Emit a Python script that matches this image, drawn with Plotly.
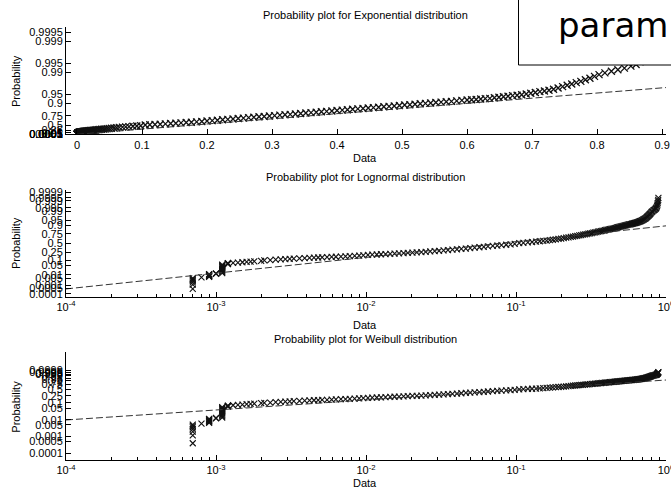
import math
from statistics import NormalDist
import plotly.graph_objects as go

W, H = 671, 493

# ---- sample: sorted data value and its plotting probability ----
data_x = [
    0.0007, 0.0007, 0.0007, 0.0007, 0.0007, 0.0007, 0.0007,
    0.0008,
    0.0009, 0.0009, 0.0009, 0.0009, 0.0009, 0.0009, 0.0009,
    0.0010, 0.0010,
    0.0011, 0.0011, 0.0011, 0.0011, 0.0011, 0.0011, 0.0011, 0.0011, 0.0011, 0.0011, 0.0011,
    0.0012, 0.0012, 0.0012, 0.0012,
    0.0013, 0.0014, 0.0015, 0.0016, 0.0017, 0.0018, 0.0020, 0.0021, 0.0023, 0.0025,
    0.0027, 0.0029, 0.0031, 0.0033, 0.0036, 0.0039, 0.0042, 0.0045, 0.0048, 0.0051,
    0.0055, 0.0059, 0.0063, 0.0068, 0.0073, 0.0078, 0.0084, 0.0090, 0.0096, 0.0103,
    0.0110, 0.0118, 0.0126, 0.0135, 0.0145, 0.0155, 0.0166, 0.0178, 0.0190, 0.0204,
    0.0218, 0.0234, 0.0250, 0.0268, 0.0287, 0.0307, 0.0329, 0.0352, 0.0377, 0.0404,
    0.0432, 0.0463, 0.0495, 0.0530, 0.0570, 0.0610, 0.0650, 0.0700, 0.0750, 0.0800,
    0.0860, 0.0920, 0.0980,
    0.105, 0.112, 0.120, 0.128, 0.136, 0.144, 0.152, 0.160, 0.168, 0.176, 0.184, 0.192, 0.200,
    0.208, 0.216, 0.224, 0.232, 0.240, 0.248, 0.256, 0.264, 0.272, 0.280, 0.288, 0.296,
    0.304, 0.312, 0.320, 0.328, 0.336, 0.344, 0.352, 0.360, 0.368, 0.376, 0.384, 0.392,
    0.400, 0.408, 0.416, 0.424, 0.432, 0.440, 0.448, 0.456, 0.464, 0.472, 0.480, 0.488,
    0.496, 0.504, 0.512, 0.520, 0.528, 0.536, 0.544, 0.552, 0.560, 0.568, 0.576, 0.584,
    0.592, 0.600,
    0.607, 0.614, 0.621, 0.628, 0.635, 0.642, 0.649, 0.656, 0.663, 0.670, 0.677, 0.684,
    0.691, 0.698, 0.705, 0.712, 0.719, 0.726, 0.733, 0.740, 0.747, 0.754, 0.761, 0.768,
    0.775, 0.782, 0.789, 0.796, 0.803, 0.812, 0.822, 0.832, 0.842, 0.852, 0.860, 0.866,
    0.872, 0.876, 0.880, 0.884, 0.887, 0.890,
]
data_p = [
    0.0004, 0.0012, 0.0020, 0.0028, 0.0036, 0.0044, 0.0052,
    0.0060,
    0.0068, 0.0076, 0.0084, 0.0092, 0.0100, 0.0108, 0.0116,
    0.0124, 0.0132,
    0.014, 0.017, 0.020, 0.024, 0.028, 0.032, 0.037, 0.042, 0.047, 0.052, 0.058,
    0.062, 0.065, 0.068, 0.071,
    0.074, 0.077, 0.080, 0.085, 0.088, 0.091, 0.097, 0.101, 0.106, 0.111,
    0.115, 0.119, 0.123, 0.127, 0.131, 0.135, 0.139, 0.142, 0.145, 0.148,
    0.151, 0.155, 0.158, 0.162, 0.166, 0.170, 0.175, 0.180, 0.185, 0.191,
    0.196, 0.201, 0.206, 0.210, 0.215, 0.220, 0.226, 0.231, 0.236, 0.242,
    0.248, 0.254, 0.261, 0.268, 0.276, 0.284, 0.293, 0.302, 0.312, 0.322,
    0.332, 0.343, 0.354, 0.366, 0.378, 0.390, 0.402, 0.414, 0.426, 0.437,
    0.449, 0.461, 0.472,
    0.497, 0.507, 0.518, 0.529, 0.540, 0.551, 0.562, 0.572, 0.583, 0.594, 0.605, 0.616, 0.627,
    0.640, 0.651, 0.662, 0.672, 0.682, 0.692, 0.701, 0.711, 0.719, 0.728, 0.736, 0.744,
    0.752, 0.760, 0.767, 0.774, 0.781, 0.788, 0.795, 0.801, 0.807, 0.813, 0.819, 0.824,
    0.830, 0.835, 0.840, 0.845, 0.850, 0.854, 0.859, 0.863, 0.867, 0.871, 0.875, 0.879,
    0.883, 0.887, 0.890, 0.893, 0.897, 0.900, 0.903, 0.906, 0.909, 0.912, 0.914, 0.917,
    0.920, 0.922,
    0.9235, 0.9257, 0.9279, 0.9301, 0.9314, 0.9341, 0.9367, 0.9392, 0.9416, 0.9439, 0.9455, 0.9477,
    0.9502, 0.9531, 0.9558, 0.9584, 0.9604, 0.9624, 0.9653, 0.9683, 0.9713, 0.9740, 0.9765, 0.9787,
    0.9806, 0.9828, 0.9847, 0.9867, 0.9883, 0.9897, 0.9909, 0.9919, 0.9928, 0.9938, 0.9945, 0.9955,
    0.9967, 0.9975, 0.9982, 0.9988, 0.9992, 0.9995,
]

prob_ticks = [0.0001, 0.0005, 0.001, 0.005, 0.01, 0.05, 0.1, 0.25, 0.5, 0.75,
              0.9, 0.95, 0.99, 0.995, 0.999, 0.9995, 0.9999]
prob_labels = ["0.0001", "0.0005", "0.001", "0.005", "0.01", "0.05", "0.1", "0.25", "0.5", "0.75",
               "0.9", "0.95", "0.99", "0.995", "0.999", "0.9995", "0.9999"]

log_tick_vals = [1e-4, 1e-3, 1e-2, 1e-1, 1.0]
log_tick_text = ["10<sup>-4</sup>", "10<sup>-3</sup>", "10<sup>-2</sup>", "10<sup>-1</sup>", "10<sup>0</sup>"]

titles = ["Probability plot for Exponential distribution",
          "Probability plot for Lognormal distribution",
          "Probability plot for Weibull distribution"]

# fitted reference-line parameters
exp_mu = 0.26
logn_mu, logn_sigma = -2.505, 2.0
wbl_scale, wbl_shape = 0.215, 0.60

# ---- probability-paper scale transforms ----
nd = NormalDist()
def t_exp(p):
    return -math.log(1.0 - p)
def t_norm(p):
    return nd.inv_cdf(p)
def t_wbl(p):
    return math.log(-math.log(1.0 - p))

FONT = "Liberation Sans, Arial, sans-serif"
BLACK = "#000000"
FS = 11

def py(px):
    return 1 - px / H

def px_x(px):
    return (px - 66) / 600.0

marker_lin = dict(symbol="x-thin", size=7, line=dict(width=1.3, color="#111111"), color="#111111")
marker_log = dict(symbol="x-thin", size=6, line=dict(width=1.1, color="#111111"), color="#111111")
dash = dict(color="#333333", width=1, dash="7px,3px")

fig = go.Figure()

# Exponential
fig.add_trace(go.Scatter(x=data_x, y=[t_exp(p) for p in data_p], mode="markers",
                         marker=marker_lin, xaxis="x", yaxis="y", showlegend=False))
ex = [0.0, 0.906]
fig.add_trace(go.Scatter(x=ex, y=[v / exp_mu for v in ex], mode="lines", line=dash,
                         xaxis="x", yaxis="y", showlegend=False))

# Lognormal
fig.add_trace(go.Scatter(x=data_x, y=[t_norm(p) for p in data_p], mode="markers",
                         marker=marker_log, xaxis="x2", yaxis="y2", showlegend=False))
lx = [1e-4, 1.0]
fig.add_trace(go.Scatter(x=lx, y=[(math.log(v) - logn_mu) / logn_sigma for v in lx], mode="lines",
                         line=dash, xaxis="x2", yaxis="y2", showlegend=False))

# Weibull
fig.add_trace(go.Scatter(x=data_x, y=[t_wbl(p) for p in data_p], mode="markers",
                         marker=marker_log, xaxis="x3", yaxis="y3", showlegend=False))
fig.add_trace(go.Scatter(x=lx, y=[wbl_shape * (math.log(v) - math.log(wbl_scale)) for v in lx],
                         mode="lines", line=dash, xaxis="x3", yaxis="y3", showlegend=False))

# invisible carriers so the minor-tick overlay axes get drawn
for xa, ya in [("x4", "y2"), ("x5", "y3")]:
    fig.add_trace(go.Scatter(x=[0.01], y=[0], mode="markers", marker=dict(opacity=0, size=1),
                             hoverinfo="skip", xaxis=xa, yaxis=ya, showlegend=False))

common_axis = dict(showgrid=False, zeroline=False, showline=True, linecolor=BLACK, linewidth=1,
                   ticks="inside", ticklen=5, tickcolor=BLACK, tickwidth=1,
                   tickfont=dict(family=FONT, size=FS, color=BLACK), automargin=False)

exp_vals = [(t_exp(p), l) for p, l in zip(prob_ticks, prob_labels) if t_exp(p) <= 8.02]
norm_vals = [(t_norm(p), l) for p, l in zip(prob_ticks, prob_labels)]
wbl_vals = [(t_wbl(p), l) for p, l in zip(prob_ticks, prob_labels)]

minor_vals = [m * 10.0 ** e for e in range(-4, 0) for m in range(2, 10)]
log_x = dict(common_axis, type="log", range=[-4, 0], tickmode="array",
             tickvals=log_tick_vals, ticktext=log_tick_text, ticklabeloverflow="allow")
# overlay axes carrying only the short minor ticks of the log scales
minor_x = dict(type="log", range=[-4, 0], tickmode="array", tickvals=minor_vals,
               ticktext=[""] * len(minor_vals), showticklabels=False,
               ticks="inside", ticklen=3, tickcolor=BLACK, tickwidth=1,
               showgrid=False, zeroline=False, showline=False, automargin=False, side="bottom")

fig.update_layout(
    width=W, height=H,
    margin=dict(l=66, r=5, t=0, b=0),
    paper_bgcolor="white", plot_bgcolor="white",
    font=dict(family=FONT, size=FS, color=BLACK),
    xaxis=dict(common_axis, domain=[0, 1], anchor="y", range=[-0.0169, 0.906],
               tick0=0, dtick=0.1, ticklabeloverflow="allow"),
    yaxis=dict(common_axis, domain=[py(134.3), py(26.7)], anchor="x", range=[0, 8.02],
               tickvals=[v for v, _ in exp_vals], ticktext=[l for _, l in exp_vals]),
    xaxis2=dict(log_x, domain=[0, 1], anchor="y2"),
    yaxis2=dict(common_axis, domain=[py(296.7), py(190)], anchor="x2", range=[-3.92, 3.87],
                tickvals=[v for v, _ in norm_vals], ticktext=[l for _, l in norm_vals]),
    xaxis3=dict(log_x, domain=[0, 1], anchor="y3"),
    yaxis3=dict(common_axis, domain=[py(460), py(351.7)], anchor="x3", range=[-10.14, 4.84],
                tickvals=[v for v, _ in wbl_vals], ticktext=[l for _, l in wbl_vals]),
    xaxis4=dict(minor_x, overlaying="x2", anchor="y2"),
    xaxis5=dict(minor_x, overlaying="x3", anchor="y3"),
)

ann = []
for title, ty in zip(titles, [15, 176.7, 339.3]):
    ann.append(dict(text=title, x=px_x(365), y=py(ty), xref="paper", yref="paper",
                    xanchor="center", yanchor="middle", showarrow=False,
                    font=dict(family=FONT, size=FS, color=BLACK)))
for dy in [158.3, 325, 483.3]:
    ann.append(dict(text="Data", x=px_x(365), y=py(dy), xref="paper", yref="paper",
                    xanchor="center", yanchor="middle", showarrow=False,
                    font=dict(family=FONT, size=FS, color=BLACK)))
for ly in [81, 243, 406.7]:
    ann.append(dict(text="Probability", x=px_x(16), y=py(ly), xref="paper", yref="paper",
                    xanchor="center", yanchor="middle", showarrow=False, textangle=-90,
                    font=dict(family=FONT, size=FS, color=BLACK)))
# legend-like text box at top right
ann.append(dict(text="param", x=px_x(556), y=py(25), xref="paper", yref="paper",
                xanchor="left", yanchor="middle", showarrow=False,
                font=dict(family="DejaVu Sans, sans-serif", size=34, color=BLACK)))

fig.update_layout(annotations=ann)
fig.add_shape(type="rect", xref="paper", yref="paper",
              x0=px_x(518.5), x1=px_x(700), y0=py(65), y1=py(-20),
              line=dict(color=BLACK, width=1), fillcolor="white", layer="above")

fig.write_html("out.html")
